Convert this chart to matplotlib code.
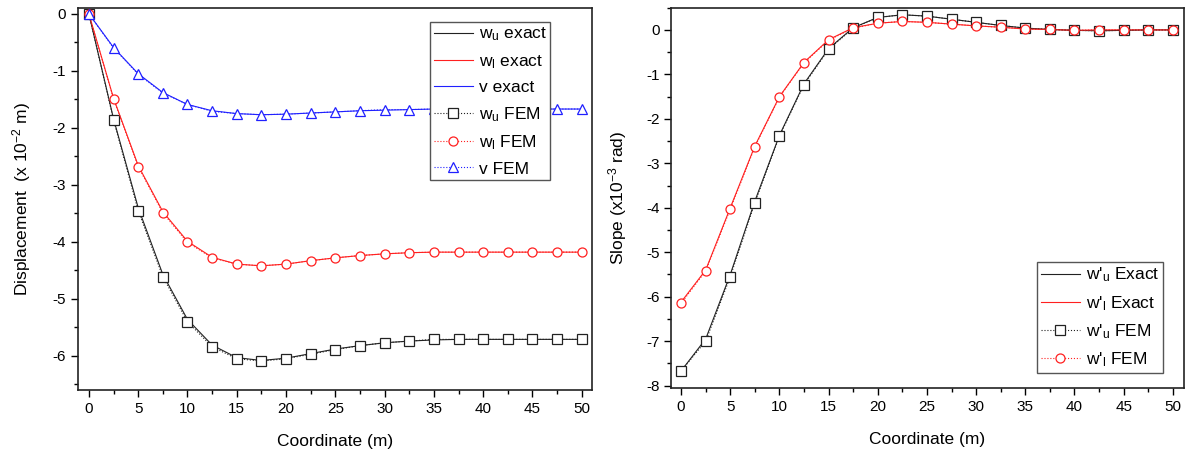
import numpy as np
import matplotlib
matplotlib.use("Agg")
import matplotlib.pyplot as plt
from matplotlib.ticker import MultipleLocator

plt.rcParams["font.family"] = ["Liberation Sans", "DejaVu Sans"]
plt.rcParams["mathtext.default"] = "regular"
plt.rcParams["axes.unicode_minus"] = False

x = [0, 2.5, 5, 7.5, 10, 12.5, 15, 17.5, 20, 22.5, 25, 27.5, 30, 32.5, 35,
     37.5, 40, 42.5, 45, 47.5, 50]

# displacement (x 10^-2 m)
wu_exact = [0, -1.84, -3.40, -4.57, -5.36, -5.81, -6.03, -6.08, -6.04, -5.96, -5.88,
            -5.82, -5.77, -5.74, -5.72, -5.71, -5.71, -5.71, -5.71, -5.71, -5.71]
wl_exact = [0, -1.48, -2.66, -3.47, -3.99, -4.27, -4.39, -4.42, -4.39, -4.33, -4.28,
            -4.24, -4.21, -4.19, -4.18, -4.18, -4.18, -4.18, -4.18, -4.18, -4.18]
v_exact = [0, -0.59, -1.05, -1.38, -1.59, -1.70, -1.75, -1.77, -1.76, -1.74, -1.72,
           -1.70, -1.69, -1.68, -1.67, -1.67, -1.67, -1.67, -1.67, -1.67, -1.67]
wu_fem = [0, -1.86, -3.45, -4.61, -5.40, -5.84, -6.05, -6.09, -6.05, -5.97, -5.89,
          -5.82, -5.77, -5.74, -5.71, -5.71, -5.71, -5.71, -5.71, -5.71, -5.71]
wl_fem = [0, -1.49, -2.68, -3.49, -4.01, -4.28, -4.39, -4.42, -4.39, -4.33, -4.28,
          -4.24, -4.21, -4.19, -4.18, -4.18, -4.18, -4.18, -4.18, -4.18, -4.18]
v_fem = [0, -0.60, -1.06, -1.39, -1.59, -1.71, -1.75, -1.77, -1.76, -1.74, -1.72,
         -1.70, -1.68, -1.68, -1.67, -1.67, -1.67, -1.67, -1.67, -1.67, -1.67]

# slope (x 10^-3 rad)
dwu_exact = [-7.67, -6.95, -5.50, -3.85, -2.37, -1.21, -0.42, 0.05, 0.28, 0.34, 0.31,
             0.24, 0.17, 0.10, 0.04, 0.01, -0.01, -0.02, -0.01, 0.0, 0.0]
dwl_exact = [-6.12, -5.40, -4.00, -2.61, -1.50, -0.73, -0.22, 0.05, 0.15, 0.19, 0.17,
             0.13, 0.09, 0.06, 0.02, 0.01, -0.01, 0.0, 0.0, 0.0, 0.0]
dwu_fem = [-7.67, -7.00, -5.55, -3.89, -2.39, -1.23, -0.44, 0.04, 0.28, 0.34, 0.31,
           0.24, 0.17, 0.10, 0.04, 0.01, -0.01, -0.02, -0.01, 0.0, 0.0]
dwl_fem = [-6.15, -5.42, -4.03, -2.63, -1.51, -0.74, -0.23, 0.04, 0.15, 0.19, 0.17,
           0.13, 0.09, 0.06, 0.02, 0.01, -0.01, 0.0, 0.0, 0.0, 0.0]

c_u = "#222222"
c_l = "#ff2020"
c_v = "#2020ff"

fig = plt.figure(figsize=(11.86, 4.51), dpi=100)
ax1 = fig.add_axes([0.0658, 0.135, 0.433, 0.847])
ax2 = fig.add_axes([0.566, 0.140, 0.432, 0.843])

lw = 0.8
ms = 6.5
fem_kw = dict(linestyle=":", linewidth=lw, markerfacecolor="white", markersize=ms,
              markeredgewidth=0.9)
leg_kw = dict(fontsize=12.5, handlelength=2.25, borderpad=0.2, handletextpad=0.35,
              fancybox=False, framealpha=1, borderaxespad=0, labelspacing=0.55)

ax1.plot(x, wu_exact, color=c_u, lw=lw, label=r"w$_u$ exact")
ax1.plot(x, wl_exact, color=c_l, lw=lw, label=r"w$_l$ exact")
ax1.plot(x, v_exact, color=c_v, lw=lw, label="v exact")
ax1.plot(x, wu_fem, color=c_u, marker="s", label=r"w$_u$ FEM", **fem_kw)
ax1.plot(x, wl_fem, color=c_l, marker="o", label=r"w$_l$ FEM", **fem_kw)
ax1.plot(x, v_fem, color=c_v, marker="^", label="v FEM", **fem_kw)
ax1.set_xlim(-1.1, 51)
ax1.set_ylim(-6.6, 0.1)
ax1.set_ylabel(r"Displacement  (x 10$^{-2}$ m)", fontsize=12.5, labelpad=14)
ax1.yaxis.set_major_locator(MultipleLocator(1))
ax1.yaxis.set_minor_locator(MultipleLocator(0.5))
leg1 = ax1.legend(loc="upper right", bbox_to_anchor=(0.92, 0.963), **leg_kw)

ax2.plot(x, dwu_exact, color=c_u, lw=lw, label=r"w'$_u$ Exact")
ax2.plot(x, dwl_exact, color=c_l, lw=lw, label=r"w'$_l$ Exact")
ax2.plot(x, dwu_fem, color=c_u, marker="s", label=r"w'$_u$ FEM", **fem_kw)
ax2.plot(x, dwl_fem, color=c_l, marker="o", label=r"w'$_l$ FEM", **fem_kw)
ax2.set_xlim(-1.0, 51.1)
ax2.set_ylim(-8.05, 0.5)
ax2.set_ylabel(r"Slope (x10$^{-3}$ rad)", fontsize=12.5, labelpad=12)
ax2.yaxis.set_major_locator(MultipleLocator(1))
ax2.yaxis.set_minor_locator(MultipleLocator(0.5))
leg2 = ax2.legend(loc="lower right", bbox_to_anchor=(0.959, 0.04), **leg_kw)

for ax, leg in [(ax1, leg1), (ax2, leg2)]:
    leg.get_frame().set_edgecolor("#555555")
    leg.get_frame().set_linewidth(1.0)
    ax.set_xlabel("Coordinate (m)", fontsize=12.5, labelpad=13)
    ax.xaxis.set_major_locator(MultipleLocator(5))
    ax.xaxis.set_minor_locator(MultipleLocator(2.5))
    ax.tick_params(which="both", direction="out", top=False, right=False,
                   labelsize=11, width=1.0)
    ax.tick_params(which="major", length=5)
    ax.tick_params(which="minor", length=3)
    for s in ax.spines.values():
        s.set_linewidth(1.2)
        s.set_color("#222222")

fig.savefig("out.png", dpi=100)
